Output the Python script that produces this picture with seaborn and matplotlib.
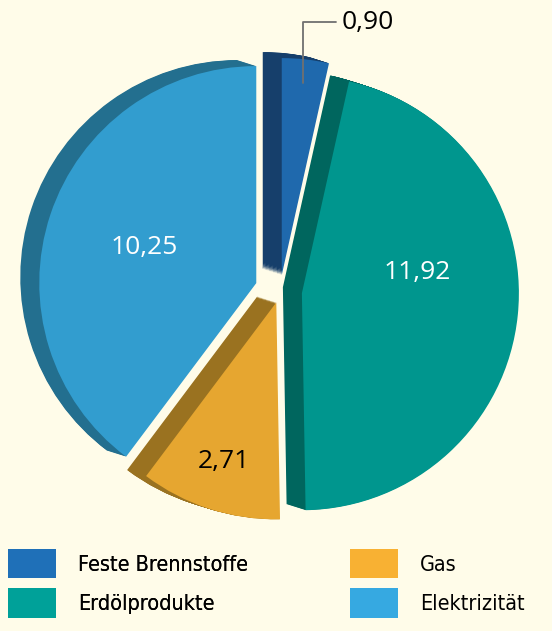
import matplotlib
matplotlib.use("Agg")
import matplotlib.pyplot as plt
import numpy as np
import seaborn as sns
from matplotlib import font_manager
from matplotlib.patches import Patch

# data
categories = ["Feste Brennstoffe", "Erdölprodukte", "Gas", "Elektrizität"]
values = [0.90, 11.92, 2.71, 10.25]
value_labels = ["0,90", "11,92", "2,71", "10,25"]

# styling
face_colors = ["#1f69ad", "#00968e", "#e6a630", "#329dcf"]
side_colors = ["#163f6b", "#00665e", "#9a7220", "#236f8f"]
legend_colors = ["#1f70b8", "#00a199", "#f8b133", "#36a9e1"]
explode = [16, 22, 12, 25]  # pie() uses data units here, radius is in px
label_pos = [(0.5, 0.89), (0.595, 0.54), (0.495, 0.77), (0.505, 0.54)]
label_colors = ["black", "white", "black", "white"]

BG = "#fffce9"
W, H = 552, 631
RADIUS = 217
CENTER = (280, 340)
DEPTH = (-19, 6)
NUM_FONT = ["Open Sans", "DejaVu Sans"]

# pick a narrow face for the legend if one is installed
fonts = font_manager.fontManager.ttflist
names = {f.name for f in fonts}
if "Liberation Sans Narrow" in names:
    leg_prop = dict(family="Liberation Sans Narrow", size=17)
elif any(f.name == "DejaVu Sans" and "ondensed" in str(f.stretch) for f in fonts):
    leg_prop = dict(family="DejaVu Sans", stretch="condensed", size=15.5)
else:
    leg_prop = dict(family="Roboto", size=14.5)

sns.set_theme(style="white", rc={"figure.facecolor": BG, "axes.facecolor": BG,
                                 "text.color": "black"})

fig = plt.figure(figsize=(W / 100, H / 100), dpi=100)
ax = fig.add_axes([0, 0, 1, 1])

pie_kw = dict(explode=explode, startangle=90, counterclock=False,
              radius=RADIUS, wedgeprops=dict(linewidth=0))

# side faces: stack shifted copies to fake the extrusion
steps = 24
for k in range(steps, 0, -1):
    f = k / steps
    c = (CENTER[0] + DEPTH[0] * f, CENTER[1] + DEPTH[1] * f)
    ax.pie(values, colors=side_colors, center=c, **pie_kw)

# top faces
wedges, _ = ax.pie(values, colors=face_colors, center=CENTER, **pie_kw)

for i, w in enumerate(wedges):
    af, rf = label_pos[i]
    ang = np.deg2rad(w.theta1 + af * (w.theta2 - w.theta1))
    x = w.center[0] + rf * w.r * np.cos(ang)
    y = w.center[1] + rf * w.r * np.sin(ang)
    if i == 0:
        ax.annotate(value_labels[i], xy=(x, y), xytext=(28, 44),
                    textcoords="offset points", ha="left", va="center",
                    fontsize=19, family=NUM_FONT, color="black",
                    arrowprops=dict(arrowstyle="-", color="#707070", lw=1.3,
                                    shrinkA=2, shrinkB=0,
                                    connectionstyle="angle,angleA=0,angleB=90,rad=0"))
    else:
        ax.text(x, y, value_labels[i], ha="center", va="center",
                fontsize=19, family=NUM_FONT, color=label_colors[i])

ax.set_xlim(0, W)
ax.set_ylim(0, H)
ax.set_aspect("equal")
ax.axis("off")

handles = [Patch(facecolor=c, linewidth=0, label=l)
           for c, l in zip(legend_colors, categories)]
fs_px = leg_prop["size"] * 100 / 72
leg_kw = dict(loc="upper left", frameon=False, prop=leg_prop,
              labelcolor="black",
              handlelength=48 / fs_px, handleheight=37 / fs_px,
              handletextpad=22 / fs_px, labelspacing=10 / fs_px,
              borderaxespad=0, borderpad=0)
# two columns placed separately so the right one starts at a fixed x
leg1 = fig.legend(handles=handles[:2], bbox_to_anchor=(8 / W, 1 - 549 / H), **leg_kw)
fig.add_artist(leg1)
fig.legend(handles=handles[2:], bbox_to_anchor=(350 / W, 1 - 549 / H), **leg_kw)

fig.savefig("out.png", dpi=100, facecolor=BG)
